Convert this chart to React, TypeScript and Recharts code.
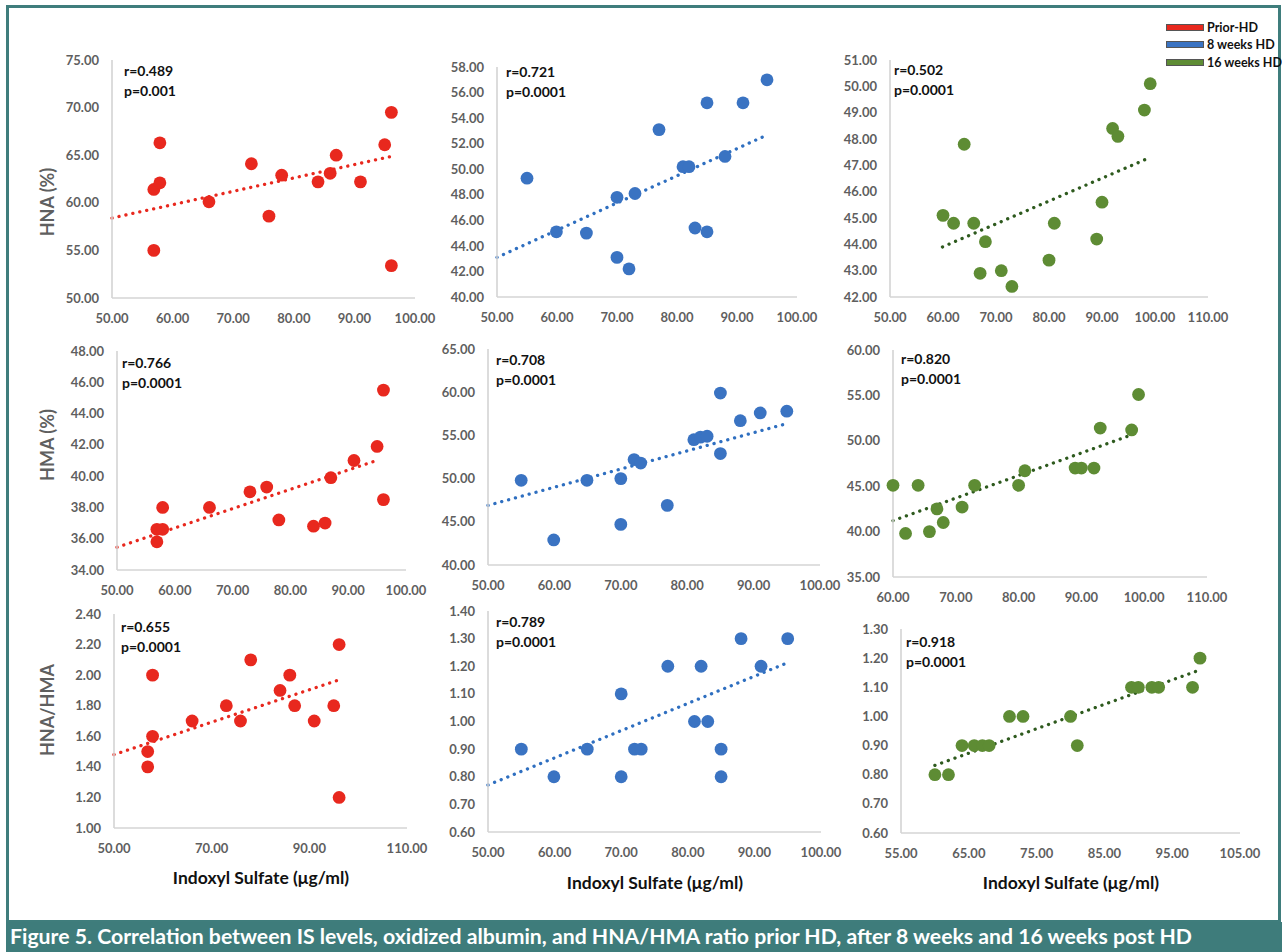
import { ReferenceLine, Scatter, ScatterChart, XAxis, YAxis } from "recharts";

// Indoxyl sulfate (x) per group
const isPrior = [56.9, 56.9, 57.9, 57.9, 66, 73, 75.9, 78, 84, 86, 87, 91, 95, 96.1, 96.1];
const is8w = [55, 59.9, 64.9, 70, 70, 72, 73, 77, 81, 82, 83, 85, 85, 88, 91, 95];
const is16w = [60, 62, 64, 65.8, 67, 68, 71, 73, 80, 81, 89, 90, 92, 93, 98, 99.1];

// HNA (%)
const hnaPrior = [61.4, 55.0, 62.1, 66.3, 60.1, 64.1, 58.6, 62.9, 62.2, 63.1, 65.0, 62.2, 66.1, 69.5, 53.4];
const hna8w = [49.3, 45.1, 45.0, 47.8, 43.1, 42.2, 48.1, 53.1, 50.2, 50.2, 45.4, 55.2, 45.1, 51.0, 55.2, 57.0];
const hna16w = [45.1, 44.8, 47.8, 44.8, 42.9, 44.1, 43.0, 42.4, 43.4, 44.8, 44.2, 45.6, 48.4, 48.1, 49.1, 50.1];

// HMA (%)
const hmaPrior = [36.6, 35.8, 36.6, 38.0, 38.0, 39.0, 39.3, 37.2, 36.8, 37.0, 39.9, 41.0, 41.9, 45.5, 38.5];
const hma8w = [49.8, 42.9, 49.8, 50.0, 44.7, 52.2, 51.8, 46.9, 54.5, 54.8, 54.9, 59.9, 52.9, 56.7, 57.6, 57.8];
const hma16w = [45.1, 39.8, 45.1, 40.0, 42.5, 41.0, 42.7, 45.1, 45.1, 46.7, 47.0, 47.0, 47.0, 51.4, 51.2, 55.1];

// HNA/HMA
const ratioPrior = [1.4, 1.5, 1.6, 2.0, 1.7, 1.8, 1.7, 2.1, 1.9, 2.0, 1.8, 1.7, 1.8, 2.2, 1.2];
const ratio8w = [0.9, 0.8, 0.9, 1.1, 0.8, 0.9, 0.9, 1.2, 1.0, 1.2, 1.0, 0.9, 0.8, 1.3, 1.2, 1.3];
const ratio16w = [0.8, 0.8, 0.9, 0.9, 0.9, 0.9, 1.0, 1.0, 1.0, 0.9, 1.1, 1.1, 1.1, 1.1, 1.1, 1.2];

// trend line end points [x, y]
const trendHnaPrior = [[50, 58.4], [96.3, 64.9]];
const trendHna8w = [[50, 43.1], [95.1, 52.7]];
const trendHna16w = [[59.9, 43.9], [99.1, 47.3]];
const trendHmaPrior = [[50, 35.45], [94.9, 41.0]];
const trendHma8w = [[50, 46.9], [94.7, 56.3]];
const trendHma16w = [[60, 41.2], [98, 50.65]];
const trendRatioPrior = [[50, 1.48], [95.7, 1.965]];
const trendRatio8w = [[50, 0.77], [95, 1.213]];
const trendRatio16w = [[60, 0.832], [98.8, 1.157]];

// axis ticks
const xTicksA = [50, 60, 70, 80, 90, 100];
const xTicksB = [50, 60, 70, 80, 90, 100, 110];
const xTicksC = [60, 70, 80, 90, 100, 110];
const xTicksD = [50, 70, 90, 110];
const xTicksE = [55, 65, 75, 85, 95, 105];
const yTicksHnaPrior = [50, 55, 60, 65, 70, 75];
const yTicksHna8w = [40, 42, 44, 46, 48, 50, 52, 54, 56, 58];
const yTicksHna16w = [42, 43, 44, 45, 46, 47, 48, 49, 50, 51];
const yTicksHmaPrior = [34, 36, 38, 40, 42, 44, 46, 48];
const yTicksHma8w = [40, 45, 50, 55, 60, 65];
const yTicksHma16w = [35, 40, 45, 50, 55, 60];
const yTicksRatioPrior = [1.0, 1.2, 1.4, 1.6, 1.8, 2.0, 2.2, 2.4];
const yTicksRatio8w = [0.6, 0.7, 0.8, 0.9, 1.0, 1.1, 1.2, 1.3, 1.4];
const yTicksRatio16w = [0.6, 0.7, 0.8, 0.9, 1.0, 1.1, 1.2, 1.3];

const rValues = ["0.489", "0.721", "0.502", "0.766", "0.708", "0.820", "0.655", "0.789", "0.918"];
const pValues = ["0.001", "0.0001", "0.0001", "0.0001", "0.0001", "0.0001", "0.0001", "0.0001", "0.0001"];

const groups = ["Prior-HD", "8 weeks HD", "16 weeks HD"];
const RED = "#e8281e";
const BLUE = "#3a73c2";
const GREEN = "#5e8c34";

const YW = 60;
const MT = 12;
const MR = 30;
const XH = 30;
const FONT = "Lato, 'Open Sans', sans-serif";

const panels = [
  { box: [112, 60, 415, 298], xs: isPrior, ys: hnaPrior, xd: [50, 100], xt: xTicksA, yd: [50, 75], yt: yTicksHnaPrior, color: RED, tc: RED, trend: trendHnaPrior, stat: [124, 70] },
  { box: [497, 67, 797, 297], xs: is8w, ys: hna8w, xd: [50, 100], xt: xTicksA, yd: [40, 58], yt: yTicksHna8w, color: BLUE, tc: "#2f6fc0", trend: trendHna8w, stat: [506, 71] },
  { box: [890, 60, 1208, 297], xs: is16w, ys: hna16w, xd: [50, 110], xt: xTicksB, yd: [42, 51], yt: yTicksHna16w, color: GREEN, tc: "#2e5a1e", trend: trendHna16w, stat: [894, 69] },
  { box: [117, 351, 406, 570], xs: isPrior, ys: hmaPrior, xd: [50, 100], xt: xTicksA, yd: [34, 48], yt: yTicksHmaPrior, color: RED, tc: RED, trend: trendHmaPrior, stat: [122, 362] },
  { box: [488, 349, 820, 565], xs: is8w, ys: hma8w, xd: [50, 100], xt: xTicksA, yd: [40, 65], yt: yTicksHma8w, color: BLUE, tc: "#2f6fc0", trend: trendHma8w, stat: [496, 359] },
  { box: [893, 350, 1207, 577], xs: is16w, ys: hma16w, xd: [60, 110], xt: xTicksC, yd: [35, 60], yt: yTicksHma16w, color: GREEN, tc: "#2e5a1e", trend: trendHma16w, stat: [901, 358] },
  { box: [114, 614, 407, 828], xs: isPrior, ys: ratioPrior, xd: [50, 110], xt: xTicksD, yd: [1.0, 2.4], yt: yTicksRatioPrior, color: RED, tc: RED, trend: trendRatioPrior, stat: [121, 626] },
  { box: [488, 611, 821, 832], xs: is8w, ys: ratio8w, xd: [50, 100], xt: xTicksA, yd: [0.6, 1.4], yt: yTicksRatio8w, color: BLUE, tc: "#2f6fc0", trend: trendRatio8w, stat: [496, 621] },
  { box: [901, 629, 1240, 833], xs: is16w, ys: ratio16w, xd: [55, 105], xt: xTicksE, yd: [0.6, 1.3], yt: yTicksRatio16w, color: GREEN, tc: "#2e5a1e", trend: trendRatio16w, stat: [906, 641] },
];

const tickStyle = { fill: "#5f5f5f", fontSize: 13, fontWeight: 700, fontFamily: FONT };
const axisLineStyle = { stroke: "#d4d4d4", strokeWidth: 1.6 };

function Panel({ p, idx }: { p: any; idx: number }) {
  const [x0, y0, x1, y1] = p.box;
  const data = p.xs.map((x: number, i: number) => ({ x, y: p.ys[i] }));
  return (
    <>
      <div style={{ position: "absolute", left: x0 - YW, top: y0 - MT }}>
        <ScatterChart
          width={x1 - x0 + YW + MR}
          height={y1 - y0 + MT + XH}
          margin={{ top: MT, right: MR, bottom: 0, left: 0 }}
        >
          <XAxis
            type="number"
            dataKey="x"
            domain={p.xd}
            ticks={p.xt}
            interval={0}
            height={XH}
            tickLine={false}
            axisLine={axisLineStyle}
            tick={tickStyle}
            tickMargin={10}
            tickFormatter={(v) => v.toFixed(2)}
          />
          <YAxis
            type="number"
            dataKey="y"
            domain={p.yd}
            ticks={p.yt}
            interval={0}
            width={YW}
            tickLine={false}
            axisLine={axisLineStyle}
            tick={tickStyle}
            tickMargin={7}
            tickFormatter={(v) => v.toFixed(2)}
          />
          <Scatter
            data={data}
            fill={p.color}
            isAnimationActive={false}
            shape={(s: any) => <circle cx={s.cx} cy={s.cy} r={6.4} fill={p.color} />}
          />
          <ReferenceLine
            segment={[
              { x: p.trend[0][0], y: p.trend[0][1] },
              { x: p.trend[1][0], y: p.trend[1][1] },
            ]}
            ifOverflow="visible"
            stroke={p.tc}
            strokeWidth={3.3}
            strokeDasharray="0.1 7"
            strokeLinecap="round"
          />
        </ScatterChart>
      </div>
      <div
        style={{
          position: "absolute",
          left: p.stat[0],
          top: p.stat[1] - 9,
          fontFamily: FONT,
          fontWeight: 700,
          fontSize: 14,
          lineHeight: "20px",
          color: "#111",
          whiteSpace: "nowrap",
        }}
      >
        <div>r={rValues[idx]}</div>
        <div>p={pValues[idx]}</div>
      </div>
    </>
  );
}

const yTitles = [
  { text: "HNA (%)", y: 202 },
  { text: "HMA (%)", y: 445 },
  { text: "HNA/HMA", y: 710 },
];
const xTitles = [261, 655, 1071];

export default function App() {
  return (
    <div style={{ position: "absolute", left: 0, top: 0, width: 1282, height: 952, background: "#fff", overflow: "hidden" }}>
      <div
        style={{
          position: "absolute",
          left: 6,
          top: 5,
          width: 1275,
          height: 918,
          border: "3px solid #3f7d7c",
          boxSizing: "border-box",
        }}
      />
      {panels.map((p, i) => (
        <Panel key={i} p={p} idx={i} />
      ))}
      {yTitles.map((t) => (
        <div
          key={t.text}
          style={{
            position: "absolute",
            left: 47,
            top: t.y,
            transform: "translate(-50%, -50%) rotate(-90deg)",
            fontFamily: FONT,
            fontWeight: 700,
            fontSize: 18,
            color: "#5f5f5f",
            whiteSpace: "nowrap",
          }}
        >
          {t.text}
        </div>
      ))}
      {xTitles.map((cx, i) => (
        <div
          key={i}
          style={{
            position: "absolute",
            left: cx,
            top: i === 0 ? 877 : 882,
            transform: "translate(-50%, -50%)",
            fontFamily: FONT,
            fontWeight: 700,
            fontSize: 17.5,
            color: "#111",
            whiteSpace: "nowrap",
          }}
        >
          Indoxyl Sulfate (μg/ml)
        </div>
      ))}
      {groups.map((g, i) => (
        <div key={g} style={{ position: "absolute", left: 1166, top: 27 + i * 17.5 - 8, height: 16, display: "flex", alignItems: "center" }}>
          <div style={{ width: 38, height: 7, background: [RED, BLUE, GREEN][i], border: "1px solid #555", boxSizing: "border-box" }} />
          <span style={{ marginLeft: 3, fontFamily: FONT, fontWeight: 700, fontSize: 12.5, color: "#111", whiteSpace: "nowrap" }}>{g}</span>
        </div>
      ))}
      <svg style={{ position: "absolute", left: 6, top: 922 }} width={1276} height={30}>
        <rect x={0} y={0} width={1276} height={30} fill="#3e7c7b" />
        <text
          x={4}
          y={22}
          fill="#fff"
          fontFamily={FONT}
          fontWeight={700}
          fontSize={20}
          textLength={1182}
          lengthAdjust="spacingAndGlyphs"
        >
          Figure 5. Correlation between IS levels, oxidized albumin, and HNA/HMA ratio prior HD, after 8 weeks and 16 weeks post HD
        </text>
      </svg>
    </div>
  );
}
